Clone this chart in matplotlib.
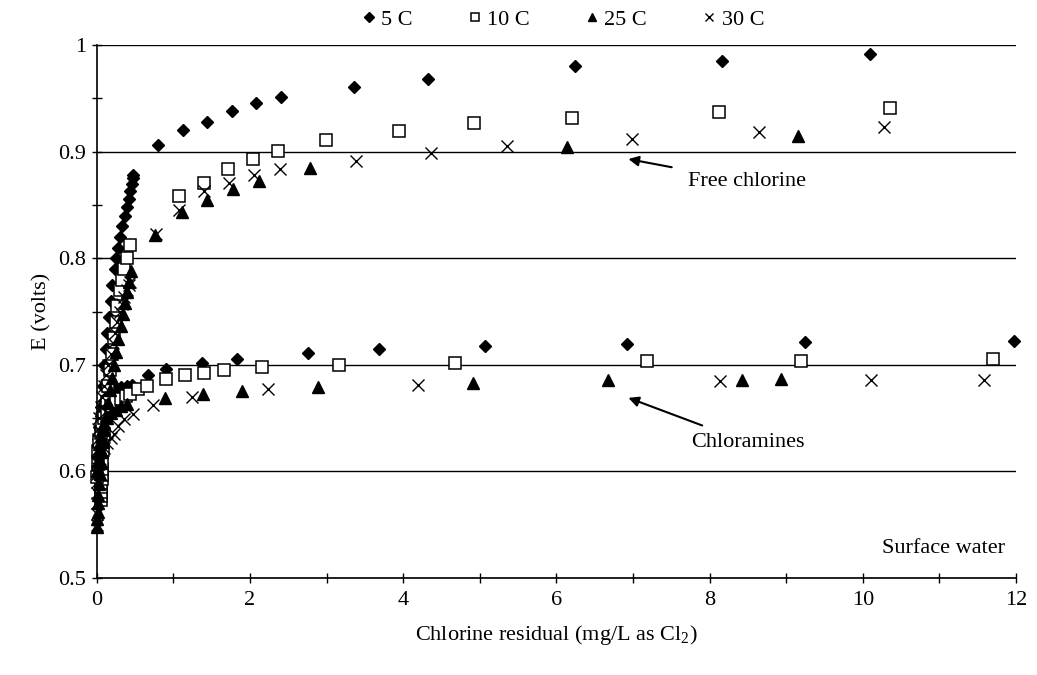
import numpy as np
import matplotlib
matplotlib.use("Agg")
import matplotlib.pyplot as plt
from matplotlib.ticker import MultipleLocator, FuncFormatter

plt.rcParams['font.family'] = ['Liberation Serif', 'DejaVu Serif']
plt.rcParams['mathtext.default'] = 'regular'

FS = 16

# Free chlorine curves (dense low-residual part + sparse points)
free_5c_x = [0.02, 0.03, 0.045, 0.06, 0.08, 0.10, 0.115, 0.135, 0.155, 0.18, 0.205, 0.235,
             0.255, 0.28, 0.305, 0.33, 0.37, 0.395, 0.42, 0.44, 0.455, 0.468, 0.478,
             0.80, 1.12, 1.44, 1.77, 2.08, 2.40, 3.36, 4.33, 6.24, 8.16, 10.10]
free_5c_y = [0.600, 0.620, 0.640, 0.660, 0.680, 0.700, 0.715, 0.730, 0.745, 0.760, 0.775, 0.790,
             0.800, 0.810, 0.820, 0.830, 0.840, 0.848, 0.856, 0.863, 0.870, 0.875, 0.878,
             0.9065, 0.920, 0.928, 0.938, 0.9455, 0.951, 0.9605, 0.968, 0.980, 0.985, 0.992]

free_10c_x = [0.05, 0.055, 0.055, 0.06, 0.06, 0.065, 0.065, 0.07, 0.075, 0.085, 0.10, 0.115,
              0.13, 0.15, 0.17, 0.195, 0.22, 0.25, 0.27, 0.30, 0.33, 0.36, 0.40, 0.435,
              1.07, 1.40, 1.71, 2.04, 2.36, 2.99, 3.95, 4.92, 6.20, 8.12, 10.36]
free_10c_y = [0.573, 0.577, 0.581, 0.585, 0.589, 0.593, 0.597, 0.602, 0.610, 0.620, 0.635, 0.650,
              0.665, 0.680, 0.695, 0.710, 0.725, 0.740, 0.755, 0.770, 0.780, 0.790, 0.800, 0.812,
              0.858, 0.871, 0.884, 0.893, 0.901, 0.911, 0.919, 0.927, 0.932, 0.937, 0.941]

free_25c_x = [0.0, 0.005, 0.01, 0.015, 0.02, 0.03, 0.04, 0.05, 0.065, 0.08, 0.10, 0.12,
              0.145, 0.17, 0.195, 0.22, 0.25, 0.28, 0.31, 0.34, 0.37, 0.40, 0.425, 0.45,
              0.76, 1.11, 1.44, 1.78, 2.12, 2.79, 6.14, 9.16]
free_25c_y = [0.548, 0.555, 0.562, 0.570, 0.578, 0.588, 0.598, 0.608, 0.618, 0.628, 0.640, 0.652,
              0.664, 0.676, 0.688, 0.700, 0.712, 0.724, 0.736, 0.748, 0.758, 0.768, 0.778, 0.788,
              0.822, 0.843, 0.855, 0.865, 0.8726, 0.8848, 0.9044, 0.915]

free_30c_x = [0.0, 0.0, 0.0, 0.0, 0.0, 0.0, 0.0, 0.005, 0.01, 0.02, 0.035, 0.05, 0.07,
              0.095, 0.12, 0.15, 0.18, 0.21, 0.24, 0.27, 0.30, 0.33, 0.36, 0.39, 0.415, 0.44,
              0.77, 1.08, 1.40, 1.73, 2.05, 2.39, 3.38, 4.36, 5.35, 6.99, 8.64, 10.28]
free_30c_y = [0.550, 0.560, 0.570, 0.580, 0.590, 0.600, 0.610, 0.620, 0.630, 0.640, 0.650, 0.660, 0.670,
              0.680, 0.690, 0.700, 0.710, 0.720, 0.730, 0.740, 0.750, 0.757, 0.764, 0.770, 0.775, 0.778,
              0.823, 0.845, 0.863, 0.871, 0.8785, 0.884, 0.8916, 0.899, 0.905, 0.912, 0.918, 0.923]

# Chloramine curves
chl_5c_x = [0.0, 0.01, 0.02, 0.035, 0.05, 0.07, 0.10, 0.14, 0.19, 0.25, 0.32, 0.39,
            0.457, 0.674, 0.905, 1.37, 1.83, 2.76, 3.68, 5.07, 6.92, 9.24, 11.97]
chl_5c_y = [0.600, 0.615, 0.630, 0.642, 0.652, 0.660, 0.666, 0.671, 0.674, 0.677, 0.679, 0.680,
            0.681, 0.690, 0.696, 0.702, 0.7058, 0.7109, 0.715, 0.7175, 0.7196, 0.7218, 0.722]

chl_10c_x = [0.0, 0.01, 0.02, 0.035, 0.05, 0.07, 0.10, 0.14, 0.19, 0.25, 0.32, 0.38,
             0.435, 0.543, 0.653, 0.905, 1.157, 1.405, 1.662, 2.162, 3.159, 4.678, 7.188, 9.195, 11.705]
chl_10c_y = [0.595, 0.607, 0.618, 0.628, 0.636, 0.643, 0.650, 0.656, 0.661, 0.665, 0.668, 0.671,
             0.673, 0.677, 0.680, 0.6863, 0.690, 0.6925, 0.695, 0.698, 0.700, 0.7019, 0.7035, 0.7035, 0.705]

chl_25c_x = [0.0, 0.01, 0.02, 0.035, 0.05, 0.07, 0.10, 0.14, 0.19, 0.25, 0.32,
             0.39, 0.892, 1.392, 1.893, 2.893, 4.909, 6.679, 8.428, 8.93]
chl_25c_y = [0.600, 0.610, 0.618, 0.626, 0.633, 0.639, 0.645, 0.650, 0.655, 0.658, 0.661,
             0.663, 0.669, 0.673, 0.675, 0.679, 0.683, 0.6853, 0.686, 0.687]

chl_30c_x = [0.0, 0.01, 0.02, 0.04, 0.07, 0.10, 0.14, 0.18, 0.22, 0.28, 0.36,
             0.478, 0.739, 1.24, 2.232, 4.198, 8.137, 10.105, 11.58]
chl_30c_y = [0.598, 0.603, 0.607, 0.612, 0.618, 0.622, 0.627, 0.631, 0.635, 0.643, 0.649,
             0.654, 0.662, 0.670, 0.6776, 0.6813, 0.6844, 0.6853, 0.686]

labels = ['5 C', '10 C', '25 C', '30 C']

fig = plt.figure(figsize=(10.37, 6.75), dpi=100)
ax = fig.add_axes([0.0933, 0.1437, 0.8865, 0.7896])

styles = [
    dict(marker='D', ms=6.6, mfc='black', mec='black'),
    dict(marker='s', ms=8, mfc='white', mec='black', mew=1.1),
    dict(marker='^', ms=8.5, mfc='black', mec='black'),
    dict(marker='x', ms=8, mfc='none', mec='black', mew=1.0),
]
series = [
    (free_5c_x + chl_5c_x, free_5c_y + chl_5c_y),
    (free_10c_x + chl_10c_x, free_10c_y + chl_10c_y),
    (free_25c_x + chl_25c_x, free_25c_y + chl_25c_y),
    (free_30c_x + chl_30c_x, free_30c_y + chl_30c_y),
]
for (xs, ys), st, lab in zip(series, styles, labels):
    ax.plot(xs, ys, ls='none', label=lab, clip_on=False, zorder=3, **st)

ax.set_xlim(0, 12)
ax.set_ylim(0.5, 1.0)
ax.xaxis.set_major_locator(MultipleLocator(2))
ax.xaxis.set_minor_locator(MultipleLocator(1))
ax.yaxis.set_major_locator(MultipleLocator(0.1))
ax.yaxis.set_minor_locator(MultipleLocator(0.05))
ax.yaxis.set_major_formatter(FuncFormatter(lambda v, p: f'{v:g}'))
ax.tick_params(which='both', direction='inout', length=7, width=1, labelsize=FS)
ax.tick_params(axis='x', pad=6)
ax.tick_params(axis='y', pad=4)
ax.grid(axis='y', which='major', color='black', lw=1)
for side in ['top', 'right']:
    ax.spines[side].set_visible(False)
for side in ['left', 'bottom']:
    ax.spines[side].set_linewidth(1.2)

ax.set_xlabel('Chlorine residual (mg/L as Cl$_2$)', fontsize=FS, labelpad=9)
ax.set_ylabel('E (volts)', fontsize=FS, labelpad=5)

arrow = dict(arrowstyle='-|>', color='black', lw=1.5, shrinkA=10, shrinkB=0, mutation_scale=15)
ax.annotate('Free chlorine', xy=(6.94, 0.893), xytext=(7.72, 0.872),
            fontsize=FS, va='center', ha='left', arrowprops=arrow)
ax.annotate('Chloramines', xy=(6.94, 0.669), xytext=(7.76, 0.627),
            fontsize=FS, va='center', ha='left', arrowprops=arrow)
ax.text(11.85, 0.528, 'Surface water', fontsize=FS, ha='right', va='center')

ax.legend(loc='center', bbox_to_anchor=(0.505, 1.048), ncol=4, frameon=False,
          fontsize=FS, handletextpad=0.05, columnspacing=2.3, markerscale=0.75,
          handlelength=1.0, borderaxespad=0.0)

fig.savefig('out.png', dpi=100)
